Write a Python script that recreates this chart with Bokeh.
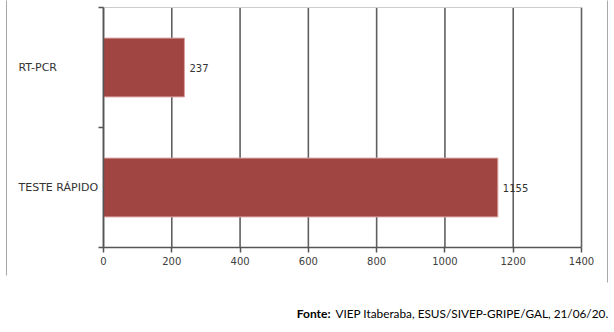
from bokeh.plotting import figure
from bokeh.models import Range1d, FixedTicker, ColumnDataSource, LabelSet, Label
from bokeh.core.properties import value
from bokeh.embed import file_html
from bokeh.resources import INLINE

# ---- data ----
categories = ["RT-PCR", "TESTE RÁPIDO"]
values = [237, 1155]
x_ticks = [0, 200, 400, 600, 800, 1000, 1200, 1400]
source_bold = "Fonte:"
source_text = "VIEP Itaberaba, ESUS/SIVEP-GRIPE/GAL, 21/06/20."

n = len(categories)
xmax = x_ticks[-1]
ypos = [n - i - 0.5 for i in range(n)]  # first category on top
src = ColumnDataSource(dict(cat=categories, val=values, y=ypos,
                            lbl=[str(v) for v in values]))

# frame spans the whole canvas; axes sit at fixed locations inside it
px = xmax / 478.0          # data units per pixel (x)
py = n / 240.0             # data units per pixel (y)
p = figure(width=614, height=332,
           x_range=Range1d(-103 * px, xmax + 33 * px),
           y_range=Range1d(-85 * py, n + 7 * py),
           output_backend="svg", toolbar_location=None, min_border=0)
p.title.visible = False
p.background_fill_color = "white"
p.border_fill_color = "white"
p.outline_line_color = None
p.xgrid.visible = False
p.ygrid.visible = False

# grid lines (drawn under the bars)
p.segment(x0=x_ticks, y0=[0] * len(x_ticks), x1=x_ticks, y1=[n] * len(x_ticks),
          line_color="#606060", line_width=1.6)
# top plot-area edge
p.segment(x0=[0], y0=[n], x1=[xmax], y1=[n], line_color="#cccccc", line_width=1)

# bars
p.hbar(y="y", left=0, right="val", height=0.49, source=src,
       fill_color="#A04542", line_color="#D9A3A0", line_width=1)

# x axis
xt = FixedTicker(ticks=x_ticks)
p.xaxis.ticker = xt
p.xaxis.fixed_location = 0
p.xaxis.bounds = (0, xmax)
p.xaxis.axis_line_color = "#555555"
p.xaxis.axis_line_width = 1.5
p.xaxis.major_tick_line_color = "#555555"
p.xaxis.major_tick_line_width = 1.5
p.xaxis.major_tick_out = 5
p.xaxis.major_tick_in = 0
p.xaxis.minor_tick_line_color = None
p.xaxis.major_label_standoff = 4
p.xaxis.major_label_text_font = "DejaVu Sans"
p.xaxis.major_label_text_font_size = "10px"
p.xaxis.major_label_text_color = "#404040"

# y axis: boundary ticks only
p.yaxis.ticker = FixedTicker(ticks=[], minor_ticks=list(range(n + 1)))
p.yaxis.fixed_location = 0
p.yaxis.bounds = (0, n)
p.yaxis.axis_line_color = "#555555"
p.yaxis.axis_line_width = 1.5
p.yaxis.major_tick_line_color = None
p.yaxis.minor_tick_line_color = "#555555"
p.yaxis.minor_tick_out = 5
p.yaxis.minor_tick_in = 0
p.yaxis.minor_tick_line_width = 1.5

# category labels (left aligned)
p.add_layout(LabelSet(x=-85 * px, y="y", text="cat", source=src,
                      text_align="left", text_baseline="middle",
                      text_font=value("DejaVu Sans"), text_font_size="11px",
                      text_color="#333333"))
# value labels
p.add_layout(LabelSet(x="val", y="y", text="lbl", source=src, x_offset=5,
                      text_align="left", text_baseline="middle",
                      text_font=value("DejaVu Sans"), text_font_size="10px",
                      text_color="#333333"))

# footer
p.add_layout(Label(x=(330 - 103) * px, y=-66 * py, text=source_bold, text_align="right",
                   text_baseline="middle", text_font="Lato", text_font_style="bold",
                   text_font_size="12px", text_color="#000000"))
p.add_layout(Label(x=(608 - 103) * px, y=-66 * py, text=source_text, text_align="right",
                   text_baseline="middle", text_font="Lato",
                   text_font_size="11.8px", text_color="#000000"))

# outer frame lines
p.segment(x0=[-97 * px, 504 * px], y0=[(247) * py + 0.06, (247) * py + 0.06],
          x1=[-97 * px, 504 * px], y1=[-28 * py, -35 * py],
          line_color="#a8a8a8", line_width=1)

open("out.html", "w").write(file_html(p, INLINE))
